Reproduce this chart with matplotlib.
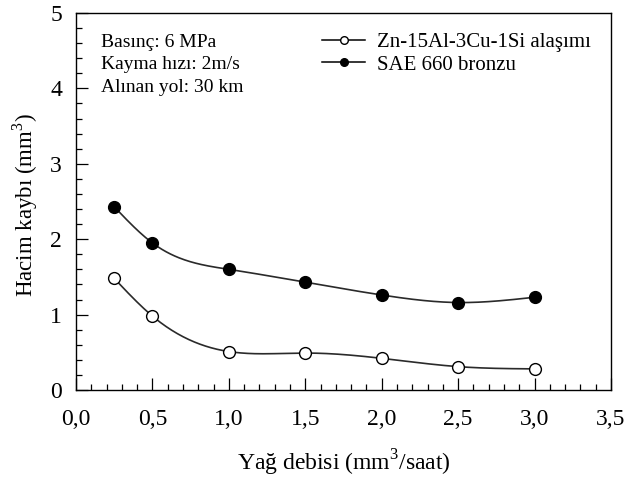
import numpy as np
import matplotlib
matplotlib.use("Agg")
import matplotlib.pyplot as plt
from matplotlib.ticker import MultipleLocator, FuncFormatter

plt.rcParams['font.family'] = ['Liberation Serif', 'DejaVu Serif']
plt.rcParams['mathtext.fontset'] = 'custom'
plt.rcParams['mathtext.rm'] = 'Liberation Serif'

x = [0.25, 0.5, 1.0, 1.5, 2.0, 2.5, 3.0]
zn_alloy = [1.48, 0.98, 0.51, 0.49, 0.42, 0.31, 0.28]
sae_bronze = [2.43, 1.95, 1.60, 1.43, 1.26, 1.16, 1.23]
labels = ["Zn-15Al-3Cu-1Si alaşımı", "SAE 660 bronzu"]
notes = ["Basınç: 6 MPa", "Kayma hızı: 2m/s", "Alınan yol: 30 km"]


def spline(xs, ys, n=300):
    xs = np.asarray(xs, float); ys = np.asarray(ys, float)
    k = len(xs); h = np.diff(xs)
    A = np.zeros((k, k)); b = np.zeros(k)
    A[0, 0] = A[-1, -1] = 1
    for i in range(1, k - 1):
        A[i, i - 1] = h[i - 1]; A[i, i] = 2 * (h[i - 1] + h[i]); A[i, i + 1] = h[i]
        b[i] = 3 * ((ys[i + 1] - ys[i]) / h[i] - (ys[i] - ys[i - 1]) / h[i - 1])
    c = np.linalg.solve(A, b)
    xx = np.linspace(xs[0], xs[-1], n); yy = np.empty_like(xx)
    for j, t in enumerate(xx):
        i = min(np.searchsorted(xs, t, side='right') - 1, k - 2)
        d = t - xs[i]
        bi = (ys[i + 1] - ys[i]) / h[i] - h[i] * (c[i + 1] + 2 * c[i]) / 3
        di = (c[i + 1] - c[i]) / (3 * h[i])
        yy[j] = ys[i] + bi * d + c[i] * d * d + di * d ** 3
    return xx, yy


fig = plt.figure(figsize=(6.27, 4.79), dpi=100)
ax = fig.add_axes([76 / 627, 1 - 390 / 479, (611 - 76) / 627, (390 - 13) / 479])

for ys, face, lab in [(zn_alloy, 'white', labels[0]), (sae_bronze, 'black', labels[1])]:
    sx, sy = spline(x, ys)
    ax.plot(sx, sy, color='#2a2a2a', lw=1.2, zorder=2)
    ax.plot(x, ys, ls='none', marker='o', ms=8.5, mfc=face, mec='black', mew=1.0, zorder=3)
    ax.plot([], [], color='black', lw=1.1, marker='o', ms=5.5, mfc=face, mec='black', label=lab)

ax.set_xlim(0, 3.5)
ax.set_ylim(0, 5)
ax.xaxis.set_major_locator(MultipleLocator(0.5))
ax.xaxis.set_minor_locator(MultipleLocator(0.1))
ax.yaxis.set_major_locator(MultipleLocator(1))
ax.yaxis.set_minor_locator(MultipleLocator(0.2))
ax.xaxis.set_major_formatter(FuncFormatter(lambda v, p: f"{v:.1f}".replace('.', ',')))
ax.yaxis.set_major_formatter(FuncFormatter(lambda v, p: f"{v:.0f}"))
ax.tick_params(which='both', direction='in', labelsize=17, width=0.9)
ax.tick_params(which='major', length=8.5)
ax.tick_params(which='minor', length=4)
ax.tick_params(axis='x', which='both', pad=14)
ax.tick_params(axis='y', which='both', pad=10)
for s in ax.spines.values():
    s.set_linewidth(1.0)

ax.set_xlabel("Yağ debisi (mm$^3$/saat)", fontsize=17)
ax.xaxis.label.set_va('baseline')
ax.xaxis.set_label_coords(0.5, (390 - 470) / 377)
ax.set_ylabel("Hacim kaybı (mm$^3$)", fontsize=16.5)
ax.yaxis.label.set_va('center')
ax.yaxis.set_label_coords((25 - 76) / 535, 0.49)

for i, t in enumerate(notes):
    ax.text(0.046, 0.922 - i * 0.0597, t, transform=ax.transAxes, fontsize=14, va='center')

ax.legend(loc='upper left', bbox_to_anchor=((322 - 76) / 535, 0.949), frameon=False, fontsize=15,
          borderpad=0, borderaxespad=0, handlelength=2.07, handletextpad=0.58, labelspacing=0.15)

fig.savefig("out.png", dpi=100)
